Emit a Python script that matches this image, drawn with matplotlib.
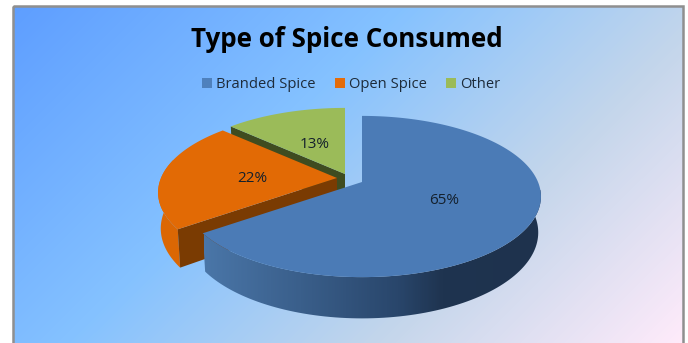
import numpy as np
import matplotlib
matplotlib.use("Agg")
from matplotlib import pyplot as plt
from matplotlib.colors import LinearSegmentedColormap
from matplotlib.patches import Patch, Polygon, Rectangle

categories = ["Branded Spice", "Open Spice", "Other"]
shares = [65, 22, 13]

top_colors = ["#4b7bb6", "#e26a05", "#9bbb59"]
key_colors = ["#4f81bd", "#e46c0a", "#9bbb59"]
cut_colors = [None, "#7a3b02", "#3f4c20"]
apexes = [(362, 182), (337, 178), (345, 174)]

RX, RY, PERSP = 176, 78, 0.18
DEPTH, SHRINK = 35, 0.985

plt.rcParams["font.family"] = ["Open Sans", "DejaVu Sans"]

fig = plt.figure(figsize=(6.88, 3.43), dpi=100)
ax = fig.add_axes([0, 0, 1, 1])
ax.axis("off")

# diagonal background inside the chart frame
x0, x1, y0, y1 = 13, 683, 6, 343
xx, yy = np.meshgrid(np.linspace(0, 1, 670), np.linspace(0, 1, 337))
grad = (xx * (x1 - x0) + yy * (y1 - y0)) / ((x1 - x0) + (y1 - y0))
cmap = LinearSegmentedColormap.from_list(
    "sky", [(0, "#5e9eff"), (0.39, "#85c2ff"), (0.7, "#c4d6eb"), (1, "#ffebfa")])
ax.imshow(grad, cmap=cmap, extent=(x0, x1, y1, y0), aspect="auto", zorder=0, vmin=0, vmax=1)
ax.add_patch(Rectangle((x0, y0), x1 - x0, y1 - y0 + 5, fill=False, ec="#8f8f8f", lw=1.8, zorder=1))


def disk(apex, theta, low=False):
    # theta is clockwise from the back of the pie, in degrees
    t = np.radians(theta)
    u, v = np.sin(t), -np.cos(t)
    f = 1 / (1 - PERSP * v)
    if low:
        return apex[0] + SHRINK * RX * u * f, apex[1] + (SHRINK * RY * v + DEPTH) * f
    return apex[0] + RX * u * f, apex[1] + RY * v * f


def rim(apex, start, end, low=False, n=120):
    x, y = disk(apex, np.linspace(start, end, n), low)
    return np.column_stack([x, y])


edges = np.concatenate([[0], np.cumsum(shares)]) * 3.6

# green slice: cut wall then top
apex = apexes[2]
start, end = edges[2], edges[3]
cut = [apex, disk(apex, start), disk(apex, start, True), (apex[0], apex[1] + DEPTH)]
ax.add_patch(Polygon(cut, fc=cut_colors[2], ec="none", zorder=2))
ax.add_patch(Polygon(np.vstack([[apex], rim(apex, start, end)]), fc=top_colors[2], ec="none", zorder=3))

# orange slice: outer wall, cut wall, top
apex = apexes[1]
start, end = edges[1], edges[2]
wall = np.vstack([rim(apex, start, start + 50), rim(apex, start, start + 50, True)[::-1]])
ax.add_patch(Polygon(wall, fc="#db6704", ec="none", zorder=4))
cut = [apex, disk(apex, start), disk(apex, start, True), (apex[0], apex[1] + DEPTH)]
ax.add_patch(Polygon(cut, fc=cut_colors[1], ec="none", zorder=5))
ax.add_patch(Polygon(np.vstack([[apex], rim(apex, start, end)]), fc=top_colors[1], ec="none", zorder=6))

# outer wall of the large slice, shaded from left to right
apex = apexes[0]
wall = np.vstack([rim(apex, 60, edges[1]), rim(apex, 60, edges[1], True)[::-1]])
wall_patch = Polygon(wall, fc="none", ec="none", zorder=7)
ax.add_patch(wall_patch)
shade_x = np.linspace(0, 1, 300).reshape(1, -1)
shade = LinearSegmentedColormap.from_list(
    "wall", [(0, "#4a76a8"), (0.28, "#3a5f8b"), (0.57, "#29466b"), (0.7, "#1f3450"), (1, "#1e324d")])
img = ax.imshow(shade_x, cmap=shade, extent=(204, 545, 325, 190), aspect="auto", zorder=7, vmin=0, vmax=1)
img.set_clip_path(wall_patch)
ax.add_patch(Polygon(np.vstack([[apex], rim(apex, 0, edges[1], n=300)]), fc=top_colors[0], ec="none", zorder=8))

label_at = [(444, 201), (252, 178.5), (315, 144.5)]
for share, (lx, ly) in zip(shares, label_at):
    ax.text(lx, ly, f"{share}%", ha="center", va="center", fontsize=11, color="#14202c", zorder=9)

ax.text(347, 39.5, "Type of Spice Consumed", ha="center", va="center", fontsize=18.7,
        fontweight="bold", color="black", zorder=9)

handles = [Patch(fc=c, ec="none") for c in key_colors]
leg = ax.legend(handles, categories, ncol=3, loc="center", bbox_to_anchor=(351 / 688, 1 - 84.5 / 343),
                frameon=False, fontsize=10.6, labelcolor="#1d2b3a", handlelength=0.68, handleheight=0.68,
                handletextpad=0.3, columnspacing=1.28, borderpad=0, borderaxespad=0)
leg.set_zorder(9)

ax.set_xlim(0, 688)
ax.set_ylim(343, 0)

fig.savefig("out.png", dpi=100)
